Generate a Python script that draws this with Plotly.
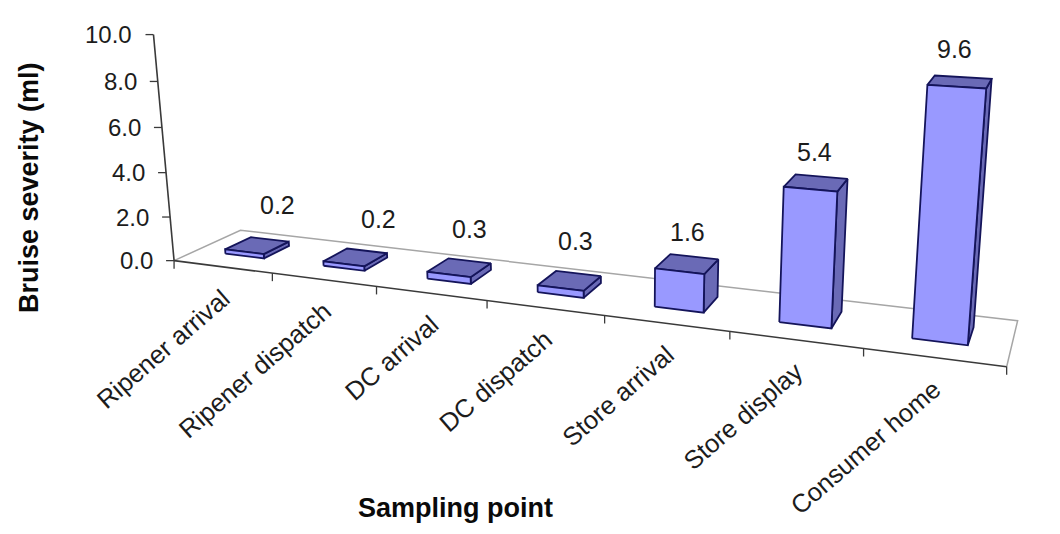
import numpy as np
import plotly.graph_objects as go

categories = ["Ripener arrival", "Ripener dispatch", "DC arrival", "DC dispatch",
              "Store arrival", "Store display", "Consumer home"]
severity = [0.2, 0.2, 0.3, 0.3, 1.6, 5.4, 9.6]
value_labels = ["0.2", "0.2", "0.3", "0.3", "1.6", "5.4", "9.6"]
y_ticks = [0, 2, 4, 6, 8, 10]
y_tick_labels = ["0.0", "2.0", "4.0", "6.0", "8.0", "10.0"]
label_offsets = [(8,-34), (12,-32), (0,-32), (-3,-33), (-7,-25), (-7,-25), (-9,-28)]

BAR_W, W0, W1 = 0.40, 0.33, 0.73
FONT = "Liberation Sans"
FRONT, SHADE, EDGE = "#9999FF", "#6A6AB6", "#14145A"

# Camera calibration: scene point (category pos, value, depth) -> picture position
cal = [
    ((0,0,0),(175,260)),((1,0,0),(273,273)),((2,0,0),(378,287)),((3,0,0),(489,301)),
    ((4,0,0),(606,316)),((5,0,0),(730,332)),((6,0,0),(863,348)),((7,0,0),(1007,365)),
    ((0,0,1),(243,230)),((7,0,1),(1018,318)),
    ((0,10,0),(155,34)),((0,8,0),(157,82)),((0,6,0),(161,127)),((0,4,0),(166,172)),((0,2,0),(170,217)),
    ((6.3,9.6,W0),(928,85)),((6.7,9.6,W0),(986,89)),((6.3,0,W0),(912,338)),((6.7,0,W0),(968,345)),
    ((6.3,9.6,W1),(935,76)),((6.7,9.6,W1),(992,79)),((6.7,0,W1),(974,332)),
    ((5.3,5.4,W0),(783,187)),((5.7,5.4,W0),(837,192)),((5.3,0,W0),(779,322)),((5.7,0,W0),(832,328)),
    ((5.3,5.4,W1),(795,174)),((5.7,5.4,W1),(848,178)),
    ((4.3,1.6,W0),(654,269)),((4.7,1.6,W0),(703,273)),((4.3,0,W0),(654,307)),((4.7,0,W0),(703,312)),
    ((4.3,1.6,W1),(670,254)),((4.7,1.6,W1),(718,260)),
    ((.3,.2,W0),(224,250)),((.7,.2,W0),(263,256)),((.3,0,W0),(224,253)),((.7,0,W0),(263,259)),
    ((.3,.2,W1),(250,237)),((.7,.2,W1),(289,241)),
]
A, b = [], []
for (X, (px, py)) in cal:
    X = list(X)
    A.append([1, *X, 0, 0, 0, 0, *[-px*c for c in X]]); b.append(px)
    A.append([0, 0, 0, 0, 1, *X, *[-py*c for c in X]]); b.append(py)
P = np.linalg.lstsq(np.array(A, float), np.array(b, float), rcond=None)[0]

def project(u, v, w):
    d = 1 + P[8]*u + P[9]*v + P[10]*w
    return ((P[0]+P[1]*u+P[2]*v+P[3]*w)/d, (P[4]+P[5]*u+P[6]*v+P[7]*w)/d)

fig = go.Figure()

def poly(pts, fill=None, color=EDGE, width=1.8):
    xs, ys = zip(*[project(*p) for p in pts])
    fig.add_trace(go.Scatter(x=xs, y=ys, mode="lines",
                             line=dict(color=color, width=width),
                             fill="toself" if fill else None, fillcolor=fill,
                             hoverinfo="skip", showlegend=False))

n = len(categories)
# floor
poly([(0,0,0),(0,0,1),(n,0,1),(n,0,0)], color="#A6A6A6", width=1.5)
# axes
poly([(0,0,0),(n,0,0)], color="#3A3A3A", width=1.6)
poly([(0,0,0),(0,10,0)], color="#3A3A3A", width=1.6)
for k in range(n+1):
    x, y = project(k,0,0)
    fig.add_trace(go.Scatter(x=[x,x], y=[y,y+8], mode="lines", line=dict(color="#3A3A3A", width=1.3),
                             hoverinfo="skip", showlegend=False))
annos = []
for t, lab in zip(y_ticks, y_tick_labels):
    x, y = project(0,t,0)
    fig.add_trace(go.Scatter(x=[x-8,x], y=[y,y], mode="lines", line=dict(color="#3A3A3A", width=1.3),
                             hoverinfo="skip", showlegend=False))
    annos.append(dict(x=x-19, y=y, text=lab, xanchor="right", yanchor="middle", showarrow=False,
                      font=dict(size=24, color="#1c1c1c", family=FONT)))
# bars
for i, v in enumerate(severity):
    a, c = i+.5-BAR_W/2, i+.5+BAR_W/2
    poly([(c,0,W0),(c,0,W1),(c,v,W1),(c,v,W0),(c,0,W0)], fill=SHADE)
    poly([(a,v,W0),(c,v,W0),(c,v,W1),(a,v,W1),(a,v,W0)], fill=SHADE)
    poly([(a,0,W0),(c,0,W0),(c,v,W0),(a,v,W0),(a,0,W0)], fill=FRONT)
    x, y = project(i+.5, v, W1)
    off = label_offsets[i]
    annos.append(dict(x=x+off[0], y=y+off[1], text=value_labels[i], showarrow=False,
                      font=dict(size=25, color="#1c1c1c", family=FONT)))
    fx, fy = project(i+.5, 0, 0)
    annos.append(dict(x=fx+15, y=fy+14, text=categories[i], textangle=-41, xanchor="right", yanchor="top",
                      showarrow=False, font=dict(size=25.5, color="#1c1c1c", family=FONT)))
annos.append(dict(x=455, y=508, text="<b>Sampling point</b>", showarrow=False,
                  font=dict(size=27, color="#0a0a0a", family=FONT)))
annos.append(dict(x=29, y=188, text="<b>Bruise severity (ml)</b>", textangle=-90, showarrow=False,
                  font=dict(size=27, color="#0a0a0a", family=FONT)))

fig.update_layout(width=1060, height=534, margin=dict(l=0,r=0,t=0,b=0),
                  paper_bgcolor="white", plot_bgcolor="white", annotations=annos,
                  xaxis=dict(range=[0,1060], visible=False, fixedrange=True),
                  yaxis=dict(range=[534,0], visible=False, fixedrange=True))
fig.write_html("out.html", config=dict(displayModeBar=False),
               post_script="document.body.style.margin='0';document.body.style.overflow='hidden';")
